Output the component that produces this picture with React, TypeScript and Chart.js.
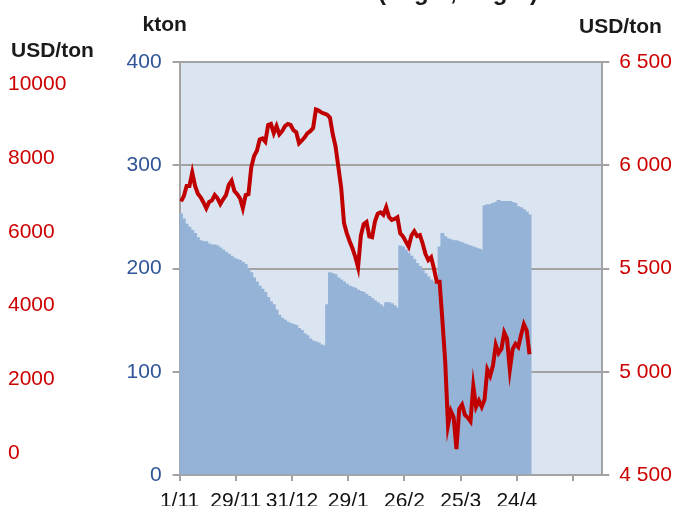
import React, { useEffect, useRef } from "react";
import { Chart, registerables } from "chart.js";

Chart.register(...registerables);

// Trading-day tick labels (one every 20 trading days)
const xTickLabels = ["1/11", "29/11", "31/12", "29/1", "26/2", "25/3", "24/4", ""];
const daysPerTick = 20;
const totalDays = 150.4;

// Stocks, kton (left axis)
const stockKton = [
  253, 248, 243, 240, 237, 234, 230, 227, 226, 226,
  224, 223, 223, 222, 220, 218, 216, 214, 212, 210,
  209, 208, 206, 204, 199, 196, 191, 187, 183, 180,
  177, 172, 168, 165, 160, 155, 152, 150, 148, 147,
  146, 145, 142, 140, 137, 135, 132, 130, 129, 128,
  126, 125, 165, 196, 195, 194, 191, 189, 187, 185,
  183, 182, 181, 179, 178, 177, 175, 173, 171, 169,
  167, 165, 163, 167, 167, 166, 164, 162, 222, 221,
  218, 215, 212, 209, 205, 202, 198, 195, 192, 189,
  187, 185, 221, 234, 231, 229, 228, 227, 227, 226,
  225, 224, 223, 222, 221, 220, 219, 218, 261, 262,
  262, 263, 264, 266, 265, 265, 265, 265, 264, 263,
  260, 259, 257, 255, 252,
];

// Price, USD/ton (right axis)
const priceUsd = [
  5825, 5850, 5900, 5900, 5965, 5900, 5862, 5845, 5820, 5792,
  5822, 5830, 5856, 5840, 5812, 5835, 5855, 5905, 5925, 5875,
  5860, 5840, 5792, 5856, 5860, 5990, 6045, 6070, 6125, 6130,
  6114, 6195, 6200, 6155, 6190, 6150, 6165, 6190, 6200, 6195,
  6170, 6160, 6106, 6120, 6135, 6155, 6165, 6180, 6270, 6265,
  6255, 6250, 6245, 6230, 6150, 6090, 5990, 5890, 5720, 5670,
  5632, 5598, 5557, 5506, 5660, 5715, 5725, 5655, 5651, 5727,
  5765, 5772, 5760, 5796, 5750, 5735, 5740, 5748, 5670, 5655,
  5630, 5606, 5660, 5680, 5657, 5662, 5620, 5570, 5541, 5555,
  5500, 5436, 5436, 5250, 5050, 4740, 4810, 4780, 4625, 4820,
  4840, 4791, 4778, 4760, 4930, 4830, 4860, 4830, 4865, 5010,
  4980, 5030, 5130, 5090, 5110, 5190, 5160, 5010, 5110, 5135,
  5120, 5178, 5230, 5200, 5085,
];

const ktonTicks = [0, 100, 200, 300, 400];
const priceTicks = [4500, 5000, 5500, 6000, 6500];
const usdTicks = [0, 2000, 4000, 6000, 8000, 10000];

const FONT = "'Liberation Sans', Arial, sans-serif";
const GRAY = "#A3A3A3";
const RED = "#C00000";
const BLUE = "#2F5597";

const fmtSpace = (v: number) =>
  String(v).replace(/\B(?=(\d{3})+(?!\d))/g, " ");

const decorPlugin = {
  id: "decor",
  beforeDraw(chart: any) {
    const { ctx, chartArea } = chart;
    ctx.save();
    ctx.fillStyle = "#DBE5F1";
    ctx.fillRect(
      chartArea.left,
      chartArea.top,
      chartArea.right - chartArea.left,
      chartArea.bottom - chartArea.top
    );
    ctx.restore();
  },
  afterDraw(chart: any) {
    const { ctx } = chart;
    ctx.save();
    ctx.fillStyle = "#1a1a1a";
    ctx.textBaseline = "alphabetic";
    ctx.textAlign = "left";
    ctx.font = `bold 21px ${FONT}`;
    ctx.fillText("kton", 142.5, 30.5);
    ctx.fillText("USD/ton", 11, 57);
    ctx.fillText("USD/ton", 579, 33);
    ctx.font = `bold 24px ${FONT}`;
    ctx.fillText("(Lager, höger)", 378, 0);
    ctx.restore();
  },
};

export default function App() {
  const ref = useRef<HTMLCanvasElement | null>(null);

  useEffect(() => {
    if (!ref.current) return;
    const chart = new Chart(ref.current, {
      data: {
        datasets: [
          {
            type: "line",
            label: "Pris",
            data: priceUsd.map((v, i) => ({ x: i + 0.5, y: v })),
            yAxisID: "y1",
            xAxisID: "x",
            borderColor: RED,
            borderWidth: 4,
            pointRadius: 0,
            tension: 0,
            order: 0,
          },
          {
            type: "bar",
            label: "Lager",
            data: stockKton.map((v, i) => ({ x: i + 0.5, y: v })),
            yAxisID: "y",
            xAxisID: "x",
            backgroundColor: "#95B3D7",
            borderWidth: 0,
            barThickness: 3.3,
            order: 1,
          },
        ],
      } as any,
      options: {
        animation: false,
        responsive: false,
        maintainAspectRatio: false,
        devicePixelRatio: 1,
        layout: { padding: { left: 8, top: 62, right: 0, bottom: 0 } },
        plugins: { legend: { display: false }, tooltip: { enabled: false } },
        scales: {
          x: {
            type: "linear",
            position: "bottom",
            offset: false,
            min: 0,
            max: totalDays,
            afterBuildTicks: (s: any) => {
              s.ticks = xTickLabels.map((_, k) => ({ value: k * daysPerTick }));
            },
            afterFit: (s: any) => {
              s.height = 31;
            },
            ticks: {
              autoSkip: false,
              maxRotation: 0,
              minRotation: 0,
              padding: 8,
              color: "#111",
              font: { family: FONT, size: 21 },
              callback: (_v: any, idx: number) => xTickLabels[idx] ?? "",
            },
            grid: {
              offset: false,
              drawOnChartArea: false,
              drawTicks: true,
              tickLength: 6,
              color: GRAY,
              lineWidth: 2,
            },
            border: { color: GRAY, width: 2 },
          },
          y: {
            type: "linear",
            position: "left",
            min: 0,
            max: 400,
            weight: 1,
            afterBuildTicks: (s: any) => {
              s.ticks = ktonTicks.map((v) => ({ value: v }));
            },
            afterFit: (s: any) => {
              s.width = 75;
            },
            ticks: {
              padding: 11,
              color: BLUE,
              font: { family: FONT, size: 21 },
            },
            grid: {
              drawOnChartArea: true,
              drawTicks: true,
              tickLength: 7,
              color: GRAY,
              lineWidth: 2,
            },
            border: { color: GRAY, width: 2 },
          },
          y2: {
            type: "linear",
            position: "left",
            min: -588,
            max: 10602,
            weight: 10,
            afterBuildTicks: (s: any) => {
              s.ticks = usdTicks.map((v) => ({ value: v }));
            },
            afterFit: (s: any) => {
              s.width = 96.6;
            },
            ticks: {
              crossAlign: "far",
              padding: 0,
              color: "#CC0000",
              font: { family: FONT, size: 21 },
              callback: (v: any) => String(v),
            },
            grid: { display: false, drawTicks: false },
            border: { display: false },
          },
          y1: {
            type: "linear",
            position: "right",
            min: 4500,
            max: 6500,
            afterBuildTicks: (s: any) => {
              s.ticks = priceTicks.map((v) => ({ value: v }));
            },
            afterFit: (s: any) => {
              s.width = 74.7;
            },
            ticks: {
              padding: 10,
              color: "#CC0000",
              font: { family: FONT, size: 21 },
              callback: (v: any) => fmtSpace(Number(v)),
            },
            grid: {
              drawOnChartArea: false,
              drawTicks: true,
              tickLength: 7,
              color: GRAY,
              lineWidth: 2,
            },
            border: { color: GRAY, width: 2 },
          },
        },
      } as any,
      plugins: [decorPlugin],
    });
    return () => chart.destroy();
  }, []);

  return (
    <div style={{ position: "absolute", left: 0, top: 0, width: 677, height: 506, overflow: "hidden" }}>
      <canvas ref={ref} width={677} height={506} style={{ display: "block" }} />
    </div>
  );
}
